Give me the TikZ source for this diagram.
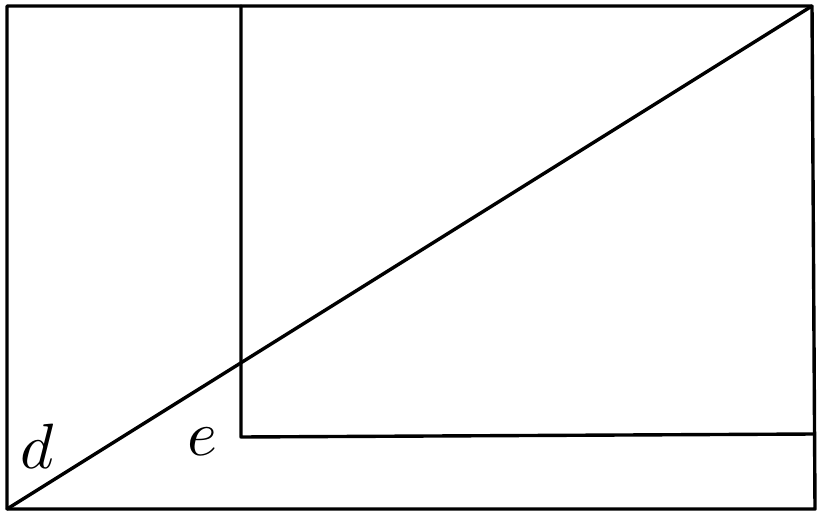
\documentclass[tikz,border=0pt]{standalone}
\usepackage{graphicx}
\begin{document}
\begin{tikzpicture}[x=1pt,y=-1pt,
  edge/.style={line width=3.4pt,line cap=round,line join=round},
  lbl/.style={inner sep=0pt,anchor=base}]
\useasboundingbox (0,0) rectangle (824,516);
\coordinate (A) at (7,509);
\coordinate (B) at (815,509);
\coordinate (C) at (812,6);
\coordinate (D) at (7,6);
\coordinate (E) at (241,6);
\coordinate (F) at (241,437);
\coordinate (G) at (814,434);
\draw[edge] (A) -- (B) -- (C) -- (D) -- cycle;
\draw[edge] (E) -- (F) -- (G);
\draw[edge] (A) -- (C);
\node[lbl] (d) at (37,468) {\scalebox{6.4}{$d$}};
\node[lbl] (e) at (202,455) {\scalebox{6.4}{$e$}};
\end{tikzpicture}
\end{document}
